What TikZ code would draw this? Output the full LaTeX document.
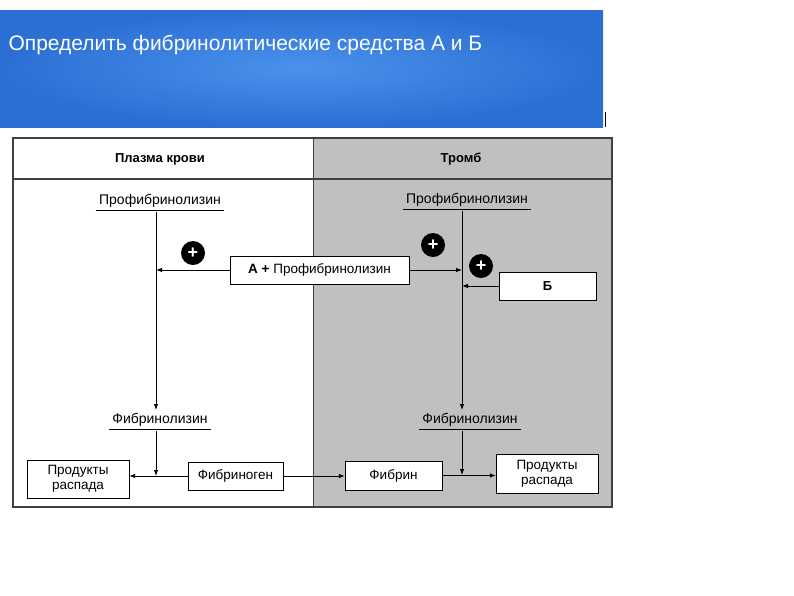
\documentclass[tikz,border=0pt]{standalone}
\usepackage{fontspec}
\setmainfont{Liberation Sans}
\usetikzlibrary{arrows.meta}
\definecolor{headblue}{HTML}{2C6FD4}
\definecolor{headglow}{HTML}{4A92EC}
\definecolor{clot}{HTML}{C0C0C0}

\tikzset{
  box/.style={draw, fill=white, inner sep=0pt, align=center, font=\fontsize{13.5}{15}\selectfont},
  lbl/.style={inner xsep=3pt, inner ysep=2pt, font=\fontsize{14}{15}\selectfont},
  plus/.style={circle, fill=black, inner sep=0pt, minimum size=24pt, text=white, font=\bfseries\fontsize{18}{18}\selectfont},
  arr/.style={-{Latex[length=6pt, width=4.5pt]}, line width=0.9pt},
  panelhead/.style={font=\bfseries\fontsize{13}{15}\selectfont}
}

\begin{document}
\begin{tikzpicture}[x=1pt, y=-1pt]
    \useasboundingbox (0,0) rectangle (794,595);
    % header band
    \shade[inner color=headglow, outer color=headblue] (0,10) rectangle (603,127);
    \fill[black] (604.5,112) rectangle (606,127);
    \node[anchor=west, text=white, font=\fontsize{21}{23}\selectfont] (title) at (5,45) {Определить фибринолитические средства А и Б};

    % panels
    \fill[clot] (313,138) rectangle (612,507);
    \draw[line width=1.2pt, darkgray] (13,138) rectangle (612,507);
    \draw[line width=0.8pt, darkgray] (313,138) -- (313,507);
    \draw[line width=1.2pt, darkgray] (13,179) -- (612,179);
    \node[panelhead] (plasma) at (160,159) {Плазма крови};
    \node[panelhead] (thrombus) at (461,159) {Тромб};

    % plasma column
    \node[lbl] (pfl) at (160,201) {Профибринолизин};
    \node[lbl] (fl) at (160,420) {Фибринолизин};
    \draw (pfl.south west) -- (pfl.south east);
    \draw (fl.south west) -- (fl.south east);
    \coordinate (tl) at (156,212);
    \coordinate (ml) at (156,410);
    \coordinate (jl) at (156,270);
    \coordinate (ul) at (156,431);
    \coordinate (bl) at (156,476);
    \draw[arr] (tl) -- (ml);
    \node[box, minimum width=179pt, minimum height=28pt] (ak) at (319.5,270) {\textbf{А +} Профибринолизин};
    \draw[arr] (ak.west) -- (jl);
    \node[plus] (p1) at (193,253) {+};

    % thrombus column
    \node[lbl] (pfr) at (467,200) {Профибринолизин};
    \node[lbl] (fr) at (470,420) {Фибринолизин};
    \draw (pfr.south west) -- (pfr.south east);
    \draw (fr.south west) -- (fr.south east);
    \coordinate (tr) at (462,211);
    \coordinate (mr) at (462,410);
    \coordinate (jr) at (462,270);
    \coordinate (jb) at (462,286);
    \coordinate (ur) at (462,431);
    \coordinate (br) at (462,475);
    \draw[arr] (tr) -- (mr);
    \draw[arr] (ak.east) -- (jr);
    \node[box, minimum width=97pt, minimum height=28pt, font=\bfseries\fontsize{13}{15}\selectfont] (b) at (547.5,286) {Б};
    \draw[arr] (b.west) -- (jb);
    \node[plus] (p2) at (433,245) {+};
    \node[plus] (p3) at (481,266) {+};

    % bottom row
    \node[box, minimum width=102pt, minimum height=38pt] (prl) at (78,479) {Продукты\\распада};
    \node[box, minimum width=95pt, minimum height=28pt] (fg) at (235.5,476) {Фибриноген};
    \node[box, minimum width=97pt, minimum height=29pt] (fb) at (393.5,475.5) {Фибрин};
    \node[box, minimum width=102pt, minimum height=39pt] (prr) at (547,473.5) {Продукты\\распада};
    \draw[arr] (fg.west) -- (prl.east |- fg.west);
    \draw[arr] (fg.east) -- (fb.west |- fg.east);
    \draw[arr] (fb.east) -- (prr.west |- fb.east);
    \draw[arr] (ul) -- (bl);
    \draw[arr] (ur) -- (br);
\end{tikzpicture}
\end{document}
